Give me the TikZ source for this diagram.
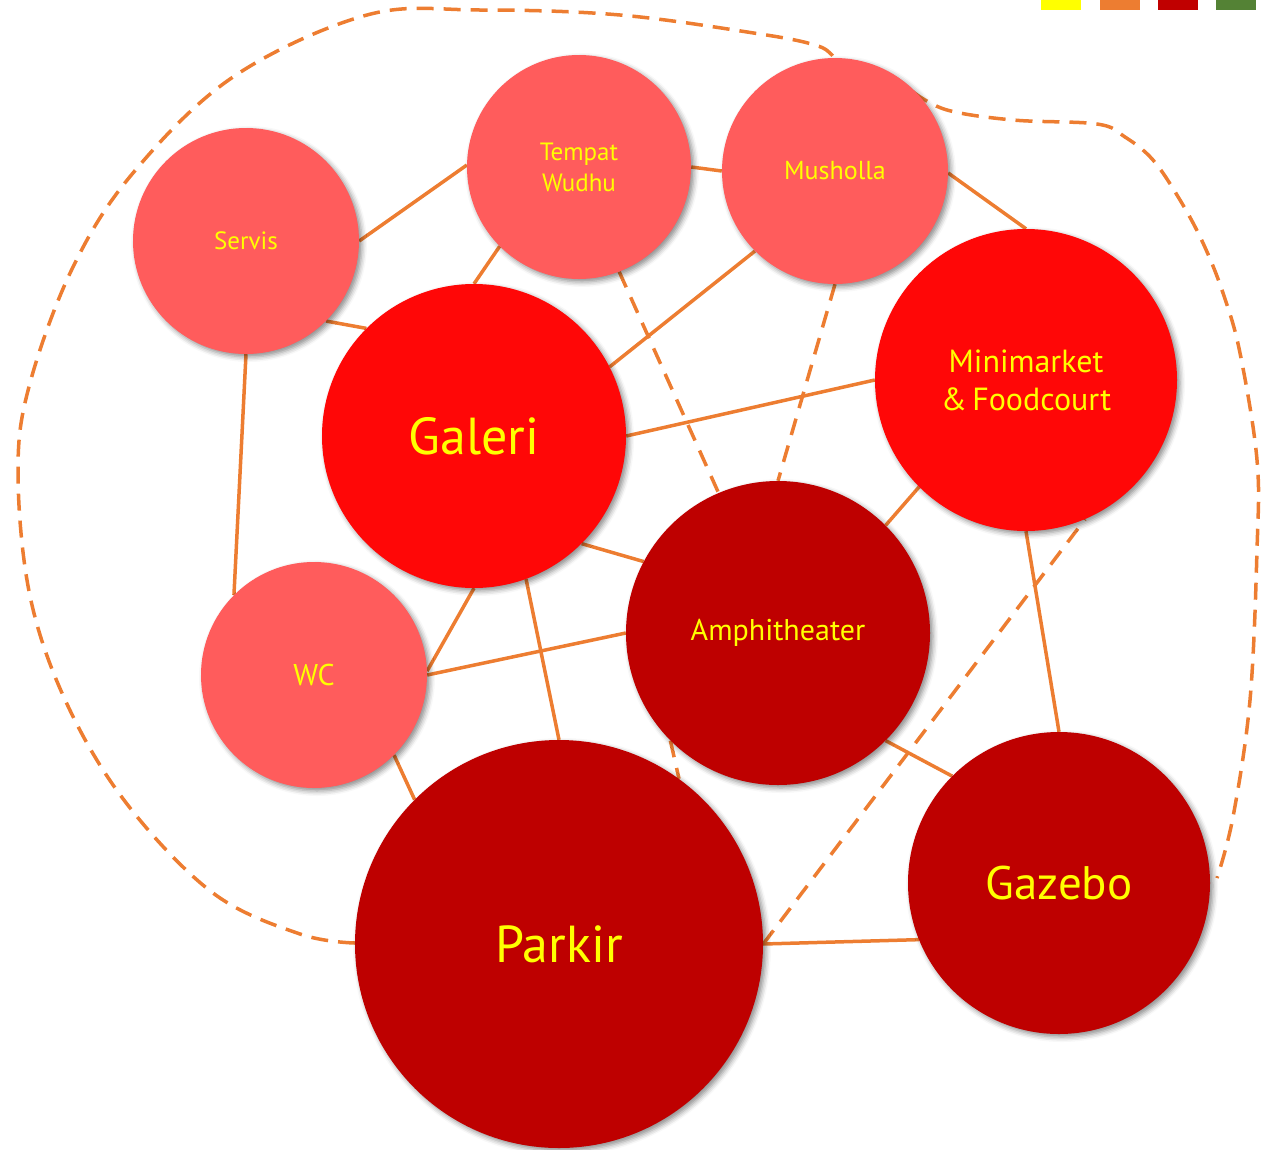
\documentclass[tikz,border=0pt]{standalone}
\usepackage{fontspec}
\setmainfont{PT Sans}
\usetikzlibrary{shadows.blur,backgrounds}

\definecolor{soft}{HTML}{FF5C5C}
\definecolor{bright}{HTML}{FF0707}
\definecolor{deep}{HTML}{BE0000}
\definecolor{link}{HTML}{ED7D31}
\definecolor{label}{HTML}{FFFF00}
\definecolor{keyyellow}{HTML}{FFFF00}
\definecolor{keyorange}{HTML}{ED7D31}
\definecolor{keyred}{HTML}{C00000}
\definecolor{keygreen}{HTML}{548235}

\tikzset{
  zone/.style={circle, inner sep=0pt, text=label, align=center,
    blur shadow={shadow xshift=3pt, shadow yshift=-3pt,
                 shadow blur radius=5pt, shadow opacity=45}},
  fsz/.style={node font={\fontsize{#1}{#1}\selectfont}},
  fsl/.style 2 args={node font={\fontsize{#1}{#2}\selectfont}},
  link/.style={draw=link, line width=3.5pt},
  weak/.style={draw=link, line width=3.5pt, dash pattern=on 17pt off 11pt},
  border/.style={draw=link, line width=3.5pt, dash pattern=on 17pt off 10pt}
}

\begin{document}
\begin{tikzpicture}[x=1pt,y=-1pt]
\useasboundingbox (0,0) rectangle (1261,1149);

% colour key
\fill[keyyellow] (1041,0) rectangle (1081,10);
\fill[keyorange] (1100,0) rectangle (1140,10);
\fill[keyred]    (1158,0) rectangle (1198,10);
\fill[keygreen]  (1216,0) rectangle (1256,10);

% zones
\node[zone, fill=soft,   minimum size=226pt, fsz=25] (servis) at (246,241) {Servis};
\node[zone, fill=soft,   minimum size=224pt, fsl={25}{31}] (wudhu)  at (579,167) {Tempat\\Wudhu};
\node[zone, fill=soft,   minimum size=226pt, fsz=26] (mushol) at (835,171) {Musholla};
\node[zone, fill=bright, minimum size=302pt, fsl={32}{38}] (mini) at (1026,380) {Minimarket\\\&\,Foodcourt};
\node[zone, fill=bright, minimum size=304pt, fsz=52] (galeri) at (474,436) {Galeri};
\node[zone, fill=deep,   minimum size=304pt, fsz=30] (amphi)  at (778,633) {Amphitheater};
\node[zone, fill=soft,   minimum size=226pt, fsz=30] (wc)     at (314,675) {WC};
\node[zone, fill=deep,   minimum size=408pt, fsz=52] (parkir) at (559,944) {Parkir};
\node[zone, fill=deep,   minimum size=302pt, fsz=47] (gazebo) at (1059,883) {Gazebo};

\begin{scope}[on background layer]
  % site boundary
  \draw[border] plot[smooth, tension=0.6] coordinates {
    (355,943) (300,934) (213,893) (127,804) (67,704) (30,596) (18,471)
    (30,383) (73,267) (133,173) (233,77) (367,15) (480,10) (620,15)
    (760,34) (815,45) (832,55) (835,62)};
  \draw[border] plot[smooth, tension=0.6] coordinates {
    (913,92) (947,110) (1013,120) (1097,124) (1125,137) (1153,160)
    (1180,200) (1203,243) (1223,293) (1240,353) (1257,460) (1257,550)
    (1250,700) (1233,817) (1217,878)};

  % direct relations
  \draw[link] (servis.0)   -- (wudhu.179);
  \draw[link] (wudhu.0)    -- (mushol.180);
  \draw[link] (servis.315) -- (galeri.135);
  \draw[link] (wudhu.225)  -- (galeri.90);
  \draw[link] (mushol.225) -- (galeri.27);
  \draw[link] (mushol.359) -- (mini.90);
  \draw[link] (galeri.0)   -- (mini.180);
  \draw[link] (servis.270) -- (wc.135);
  \draw[link] (galeri.315) -- (amphi.152);
  \draw[link] (galeri.270) -- (wc.2);
  \draw[link] (wc.0)       -- (amphi.180);
  \draw[link] (galeri.290) -- (parkir.90);
  \draw[link] (wc.315)     -- (parkir.135);
  \draw[link] (mini.225)   -- (amphi.45);
  \draw[link] (amphi.315)  -- (gazebo.135);
  \draw[link] (mini.270)   -- (gazebo.90);
  \draw[link] (parkir.0)   -- (gazebo.202);

  % indirect relations
  \draw[weak] (wudhu.291)  -- (amphi.113);
  \draw[weak] (mushol.270) -- (amphi.90);
  \draw[weak] (amphi.225)  -- (parkir.54);
  \draw[weak] (parkir.0)   -- (mini.293);
\end{scope}
\end{tikzpicture}
\end{document}
